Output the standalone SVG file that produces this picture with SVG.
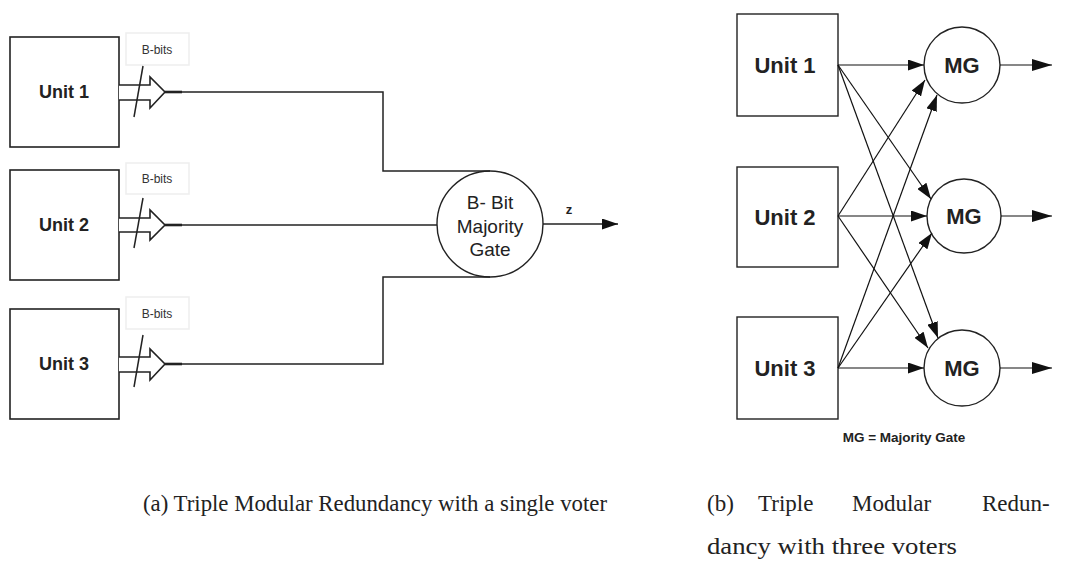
<svg xmlns="http://www.w3.org/2000/svg" width="1070" height="565" viewBox="0 0 1070 565">
<style>
  .box{fill:#fff;stroke:#222;stroke-width:1.6}
  .rbox{fill:#fff;stroke:#222;stroke-width:1.4}
  .unit{font-family:"Liberation Sans",Arial,sans-serif;font-weight:bold;fill:#222;text-anchor:middle}
  .lbl{fill:#fff;stroke:#eeeeee;stroke-width:1.5}
  .lbltxt{font-family:"Liberation Sans",Arial,sans-serif;font-size:12px;fill:#333;text-anchor:middle}
  .bus{fill:#fff;stroke:#222;stroke-width:1.6;stroke-linejoin:miter}
  .wire{fill:none;stroke:#222;stroke-width:1.5}
  .stub{fill:none;stroke:#222;stroke-width:2.6}
  .conn{fill:none;stroke:#111;stroke-width:1.2}
  .gate{fill:#fff;stroke:#222;stroke-width:1.4}
  .gtxt{font-family:"Liberation Sans",Arial,sans-serif;font-size:19px;fill:#222;text-anchor:middle}
  .cap{font-family:"Liberation Serif","Times New Roman",serif;font-size:23px;fill:#222}
</style>
<defs>
  <marker id="ah" viewBox="0 0 16 11" refX="16" refY="5.5" markerWidth="16" markerHeight="11" markerUnits="userSpaceOnUse" orient="auto">
    <path d="M0,0 L16,5.5 L0,11 Z" fill="#111"/>
  </marker>
  <marker id="ah2" viewBox="0 0 20 12" refX="20" refY="6" markerWidth="20" markerHeight="12" markerUnits="userSpaceOnUse" orient="auto">
    <path d="M0,0 L20,6 L0,12 Z" fill="#111"/>
  </marker>
</defs>

<!-- (a) left diagram -->
<g id="a-unit1">
  <rect class="box" x="10" y="37" width="109" height="110"/>
  <text class="unit" x="64" y="98" font-size="18">Unit 1</text>
</g>
<g id="a-unit2">
  <rect class="box" x="10" y="170" width="109" height="110"/>
  <text class="unit" x="64" y="231" font-size="18">Unit 2</text>
</g>
<g id="a-unit3">
  <rect class="box" x="10" y="309" width="109" height="110"/>
  <text class="unit" x="64" y="370" font-size="18">Unit 3</text>
</g>

<g id="a-bus1">
  <rect class="lbl" x="126" y="33" width="63" height="32"/>
  <text class="lbltxt" x="157" y="54">B-bits</text>
  <path class="bus" d="M119,85 H150 V77 L165,92 L150,108 V100 H119"/>
  <line class="wire" x1="134" y1="117" x2="143" y2="66"/>
</g>
<g id="a-bus2">
  <rect class="lbl" x="126" y="163" width="63" height="31"/>
  <text class="lbltxt" x="157" y="183">B-bits</text>
  <path class="bus" d="M119,218 H150 V210 L165,225 L150,240 V232 H119"/>
  <line class="wire" x1="134" y1="248" x2="143" y2="198"/>
</g>
<g id="a-bus3">
  <rect class="lbl" x="126" y="297" width="63" height="32"/>
  <text class="lbltxt" x="157" y="318">B-bits</text>
  <path class="bus" d="M119,357 H150 V349 L165,364 L150,380 V372 H119"/>
  <line class="wire" x1="134" y1="387" x2="143" y2="335"/>
</g>

<g id="a-gate">
  <circle class="gate" cx="490" cy="224" r="53"/>
  <text class="gtxt" x="490" y="209">B- Bit</text>
  <text class="gtxt" x="490" y="233">Majority</text>
  <text class="gtxt" x="490" y="256">Gate</text>
</g>

<g id="a-connectors">
  <line class="stub" x1="165" y1="92" x2="182" y2="92"/>
  <line class="stub" x1="165" y1="225" x2="182" y2="225"/>
  <line class="stub" x1="165" y1="364" x2="182" y2="364"/>
  <path class="wire" d="M182,92 H383 V171 H490"/>
  <path class="wire" d="M182,225 H437"/>
  <path class="wire" d="M182,364 H383 V277 H490"/>
  <line class="wire" x1="543" y1="224" x2="618" y2="224" marker-end="url(#ah)"/>
  <text x="569" y="214" font-family="Liberation Sans, Arial, sans-serif" font-size="13" font-weight="bold" fill="#222" text-anchor="middle">z</text>
</g>

<!-- (b) right diagram -->
<g id="b-unit1">
  <rect class="rbox" x="737" y="14" width="101" height="102"/>
  <text class="unit" x="785" y="73" font-size="22">Unit 1</text>
</g>
<g id="b-unit2">
  <rect class="rbox" x="737" y="167" width="101" height="100"/>
  <text class="unit" x="785" y="225" font-size="22">Unit 2</text>
</g>
<g id="b-unit3">
  <rect class="rbox" x="737" y="317" width="101" height="102"/>
  <text class="unit" x="785" y="376" font-size="22">Unit 3</text>
</g>
<g id="b-mg1">
  <circle class="gate" cx="962" cy="65" r="38"/>
  <text class="unit" x="962" y="73" font-size="22">MG</text>
</g>
<g id="b-mg2">
  <circle class="gate" cx="964" cy="216" r="37"/>
  <text class="unit" x="964" y="224" font-size="22">MG</text>
</g>
<g id="b-mg3">
  <circle class="gate" cx="962" cy="368" r="38"/>
  <text class="unit" x="962" y="376" font-size="22">MG</text>
</g>

<g id="b-connectors">
  <line class="conn" x1="838" y1="65" x2="924" y2="65" marker-end="url(#ah)"/>
  <line class="conn" x1="838" y1="65" x2="931" y2="199" marker-end="url(#ah)"/>
  <line class="conn" x1="838" y1="65" x2="938" y2="338" marker-end="url(#ah)"/>
  <line class="conn" x1="838" y1="216" x2="925" y2="80" marker-end="url(#ah)"/>
  <line class="conn" x1="838" y1="216" x2="927" y2="216" marker-end="url(#ah)"/>
  <line class="conn" x1="838" y1="216" x2="928" y2="348" marker-end="url(#ah)"/>
  <line class="conn" x1="838" y1="368" x2="937" y2="95" marker-end="url(#ah)"/>
  <line class="conn" x1="838" y1="368" x2="932" y2="233" marker-end="url(#ah)"/>
  <line class="conn" x1="838" y1="368" x2="924" y2="368" marker-end="url(#ah)"/>
  <line class="conn" x1="1000" y1="65" x2="1052" y2="65" marker-end="url(#ah2)"/>
  <line class="conn" x1="1001" y1="216" x2="1052" y2="216" marker-end="url(#ah2)"/>
  <line class="conn" x1="1000" y1="368" x2="1052" y2="368" marker-end="url(#ah2)"/>
</g>
<text x="904" y="442" font-family="Liberation Sans, Arial, sans-serif" font-size="13.5" font-weight="bold" fill="#222" text-anchor="middle">MG = Majority Gate</text>

<!-- captions -->
<text class="cap" x="143" y="511" textLength="464" lengthAdjust="spacingAndGlyphs">(a) Triple Modular Redundancy with a single voter</text>
<text class="cap" y="511"><tspan x="707">(b)</tspan><tspan x="758">Triple</tspan><tspan x="852">Modular</tspan><tspan x="982">Redun-</tspan></text>
<text class="cap" x="707" y="554" textLength="250" lengthAdjust="spacingAndGlyphs">dancy with three voters</text>
</svg>
